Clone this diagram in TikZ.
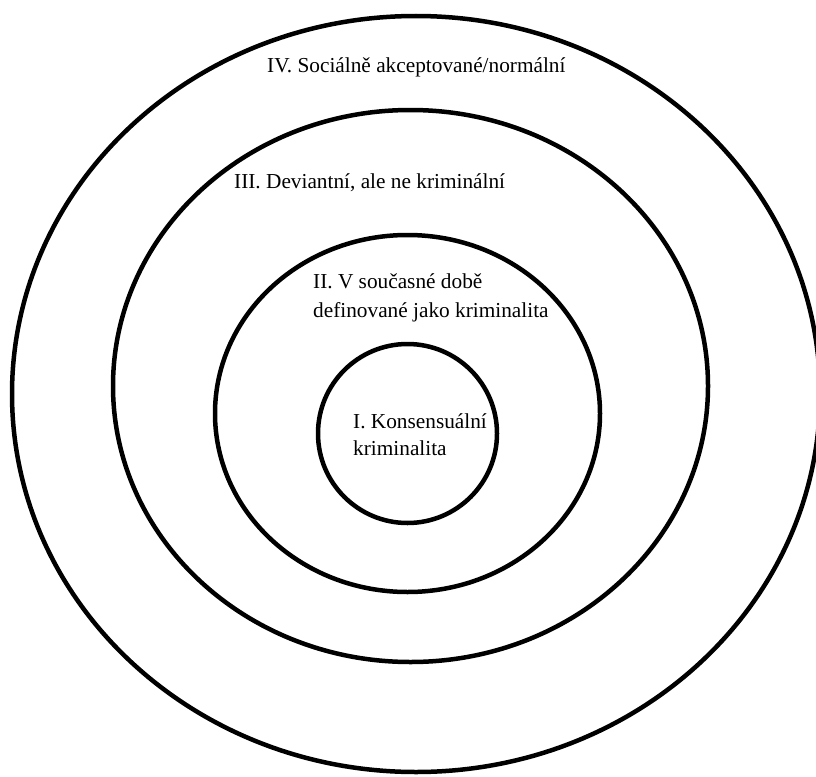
\documentclass[tikz,border=0pt]{standalone}
\usepackage{fontspec}
\setmainfont{Liberation Serif}
\begin{document}
\begin{tikzpicture}[x=1pt,y=-1pt,
  ring/.style={draw=black,line width=4.5pt},
  lbl/.style={inner sep=0pt,anchor=base west,font=\fontsize{21.3}{28}\selectfont,align=left}]
\useasboundingbox (0,0) rectangle (816,776);
\clip (0,0) rectangle (816,776);
\fill[white] (0,0) rectangle (816,776);
\draw[ring] (416,394) ellipse [x radius=404,y radius=378];
\draw[ring] (410.5,386) ellipse [x radius=297.5,y radius=276];
\draw[ring] (407.5,413.5) ellipse [x radius=192.5,y radius=178.5];
\draw[ring] (407.5,433.5) ellipse [x radius=89.5,y radius=89.5];
\node[lbl] (t4) at (267,72) {IV. Sociálně akceptované/normální};
\node[lbl] (t3) at (234,188) {III. Deviantní, ale ne kriminální};
\node[lbl] (t2a) at (313,288) {II. V současné době};
\node[lbl] (t2b) at (313,317) {definované jako kriminalita};
\node[lbl] (t1a) at (353,428) {I. Konsensuální};
\node[lbl] (t1b) at (353,455) {kriminalita};
\end{tikzpicture}
\end{document}
